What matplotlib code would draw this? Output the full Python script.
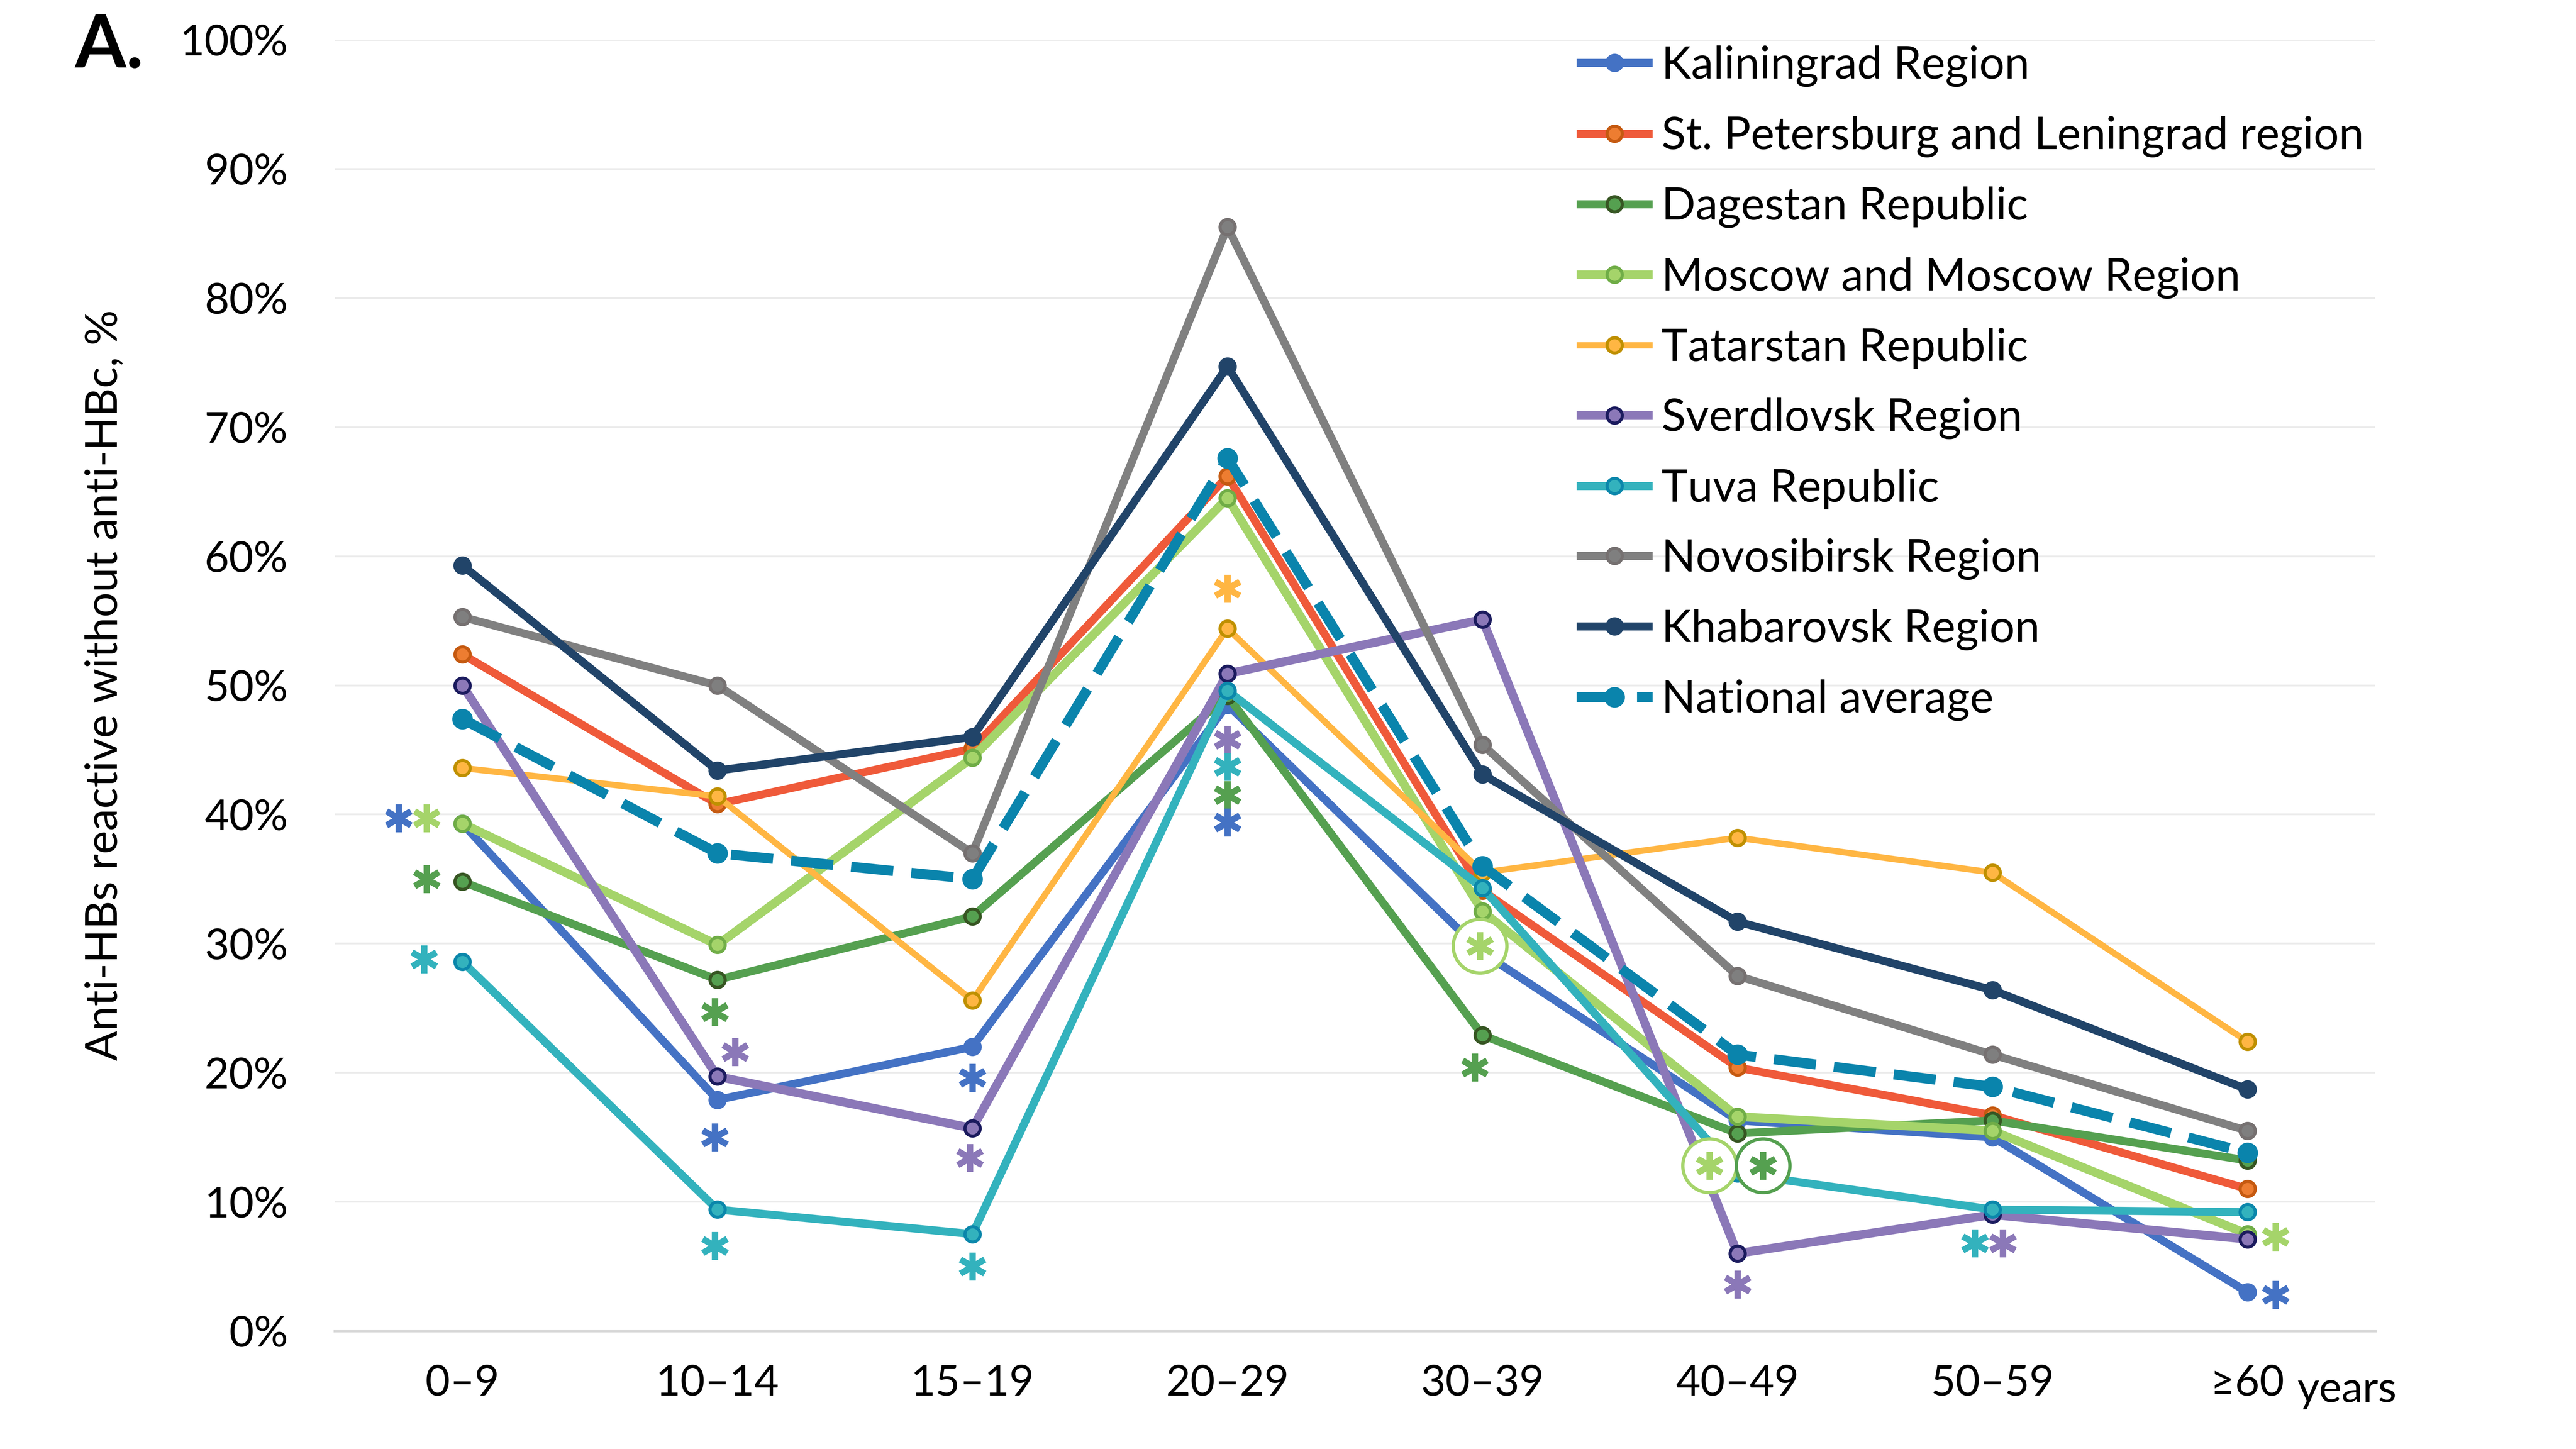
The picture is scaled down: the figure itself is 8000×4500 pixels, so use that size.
import matplotlib
matplotlib.use("Agg")
import matplotlib.pyplot as plt
from matplotlib.ticker import PercentFormatter

plt.rcParams["font.family"] = ["Lato", "DejaVu Sans"]

# --------------------------------------------------
# Data (percent of anti-HBs reactive without anti-HBc)
# --------------------------------------------------

ages = ["0–9", "10–14", "15–19", "20–29", "30–39", "40–49", "50–59", "≥60"]

kaliningrad = [39.3, 17.9, 22.0, 48.5, 29.3, 16.3, 15.0, 3.0]
st_petersburg = [52.4, 40.8, 45.1, 66.2, 34.1, 20.4, 16.7, 11.0]
dagestan = [34.8, 27.2, 32.1, 49.2, 22.9, 15.3, 16.3, 13.2]
moscow = [39.3, 29.9, 44.4, 64.5, 32.5, 16.6, 15.5, 7.5]
tatarstan = [43.6, 41.4, 25.6, 54.4, 35.5, 38.2, 35.5, 22.4]
sverdlovsk = [50.0, 19.7, 15.7, 50.9, 55.1, 6.0, 9.0, 7.1]
tuva = [28.6, 9.4, 7.5, 49.6, 34.3, 12.2, 9.4, 9.2]
novosibirsk = [55.3, 50.0, 37.0, 85.5, 45.4, 27.5, 21.4, 15.5]
khabarovsk = [59.3, 43.4, 46.0, 74.7, 43.1, 31.7, 26.4, 18.7]
national = [47.4, 37.0, 35.0, 67.6, 36.0, 21.4, 18.9, 13.8]

labels = [
    "Kaliningrad Region",
    "St. Petersburg and Leningrad region",
    "Dagestan Republic",
    "Moscow and Moscow Region",
    "Tatarstan Republic",
    "Sverdlovsk Region",
    "Tuva Republic",
    "Novosibirsk Region",
    "Khabarovsk Region",
    "National average",
]

# significance marks: age group index, value (%), series index
star_group = [0, 0, 0, 0, 1, 1, 1, 1, 2, 2, 2, 3, 3, 3, 3, 3, 4, 4, 5, 5, 5, 6, 6, 7, 7]
star_value = [39.7, 39.7, 35.0, 28.8, 24.7, 21.6, 15.0, 6.6, 19.6, 13.4, 5.0,
              57.5, 45.8, 43.7, 41.5, 39.4, 29.8, 20.4, 12.8, 12.8, 3.6, 6.8, 6.8, 7.3, 2.8]
star_series = [0, 3, 2, 6, 2, 5, 0, 6, 0, 5, 6, 4, 5, 6, 2, 0, 3, 2, 3, 2, 5, 6, 5, 3, 0]
star_circled = [0, 0, 0, 0, 0, 0, 0, 0, 0, 0, 0, 0, 0, 0, 0, 0, 1, 0, 1, 1, 0, 0, 0, 0, 0]

# --------------------------------------------------
# Styles
# --------------------------------------------------

series = [kaliningrad, st_petersburg, dagestan, moscow, tatarstan,
          sverdlovsk, tuva, novosibirsk, khabarovsk, national]
line_colors = ["#4472C4", "#EF5A3A", "#55A050", "#A5D46A", "#FFB643",
               "#8B78B8", "#33B2BD", "#808080", "#214469", "#0A84AC"]
marker_faces = ["#4472C4", "#ED7D31", "#55A050", "#A5D46A", "#FFB643",
                "#8B78B8", "#33B2BD", "#7F7F7F", "#214469", "#0A84AC"]
marker_edges = ["#4472C4", "#C55A11", "#375623", "#70AD47", "#BF9000",
                "#1B1B5E", "#0B87AB", "#767171", "#214469", "#0A84AC"]
line_widths = [3.6, 3.6, 3.6, 3.9, 2.8, 3.9, 3.6, 3.6, 3.6, 4.5]
star_offsets = [-0.25, -0.14, -0.14, -0.15, -0.01, 0.07, -0.01, -0.01, 0.0, -0.01, 0.0,
                0.0, 0.0, 0.0, 0.0, 0.0, -0.01, -0.03, -0.11, 0.10, 0.0, -0.07, 0.04, 0.11, 0.11]

x = list(range(len(ages)))

fig = plt.figure(figsize=(16, 9), dpi=500)
ax = fig.add_axes([0.130, 0.0815, 0.792, 0.891])

for i, values in enumerate(series):
    kwargs = {}
    if i == 9:
        kwargs["dashes"] = (4.2, 1.8)
    ax.plot(x, [v / 100 for v in values], color=line_colors[i], lw=line_widths[i],
            marker="o", markersize=6.8 if i != 9 else 7.8,
            markerfacecolor=marker_faces[i], markeredgecolor=marker_edges[i],
            markeredgewidth=1.4, label=labels[i], zorder=3 + i,
            solid_capstyle="butt", dash_capstyle="butt", **kwargs)

for g, v, s, c, dx in zip(star_group, star_value, star_series, star_circled, star_offsets):
    xs = g + dx
    ys = v / 100
    if c:
        ax.plot(xs, ys, marker="o", markersize=24, markerfacecolor="white",
                markeredgecolor=line_colors[s], markeredgewidth=1.5, zorder=30, clip_on=False)
    ax.plot(xs, ys, marker=(6, 2, 0), markersize=12.5, markeredgewidth=2.8,
            color=line_colors[s], zorder=31, clip_on=False)

# --------------------------------------------------
# Axes formatting
# --------------------------------------------------

ax.set_xlim(-0.5, 7.5)
ax.set_ylim(0, 1)
ax.set_xticks(x)
ax.set_xticklabels(ages)
ax.set_yticks([i / 10 for i in range(11)])
ax.yaxis.set_major_formatter(PercentFormatter(1.0, decimals=0))
ax.tick_params(axis="both", length=0, labelsize=19)
ax.tick_params(axis="y", pad=21)
ax.tick_params(axis="x", pad=15)
ax.grid(axis="y", color="#EBEBEB", lw=0.8, zorder=0)
ax.set_axisbelow(True)
for side in ["top", "right", "left"]:
    ax.spines[side].set_visible(False)
ax.spines["bottom"].set_color("#D9D9D9")
ax.spines["bottom"].set_linewidth(1.3)

ax.set_ylabel("Anti-HBs reactive without anti-HBc, %", fontsize=19.8)
ax.yaxis.set_label_coords(-0.103, 0.5)

ax.text(7.39, -0.055, "years", fontsize=19, ha="center", va="baseline", clip_on=False)
fig.text(0.029, 0.991, "A.", fontsize=33, fontweight="bold", ha="left", va="top")

fig.legend(loc="upper left", bbox_to_anchor=(0.612, 0.9687), frameon=False,
           fontsize=20, handlelength=1.7, handletextpad=0.2, labelspacing=0.65,
           borderpad=0, borderaxespad=0)

fig.savefig("out.png", dpi=500)
